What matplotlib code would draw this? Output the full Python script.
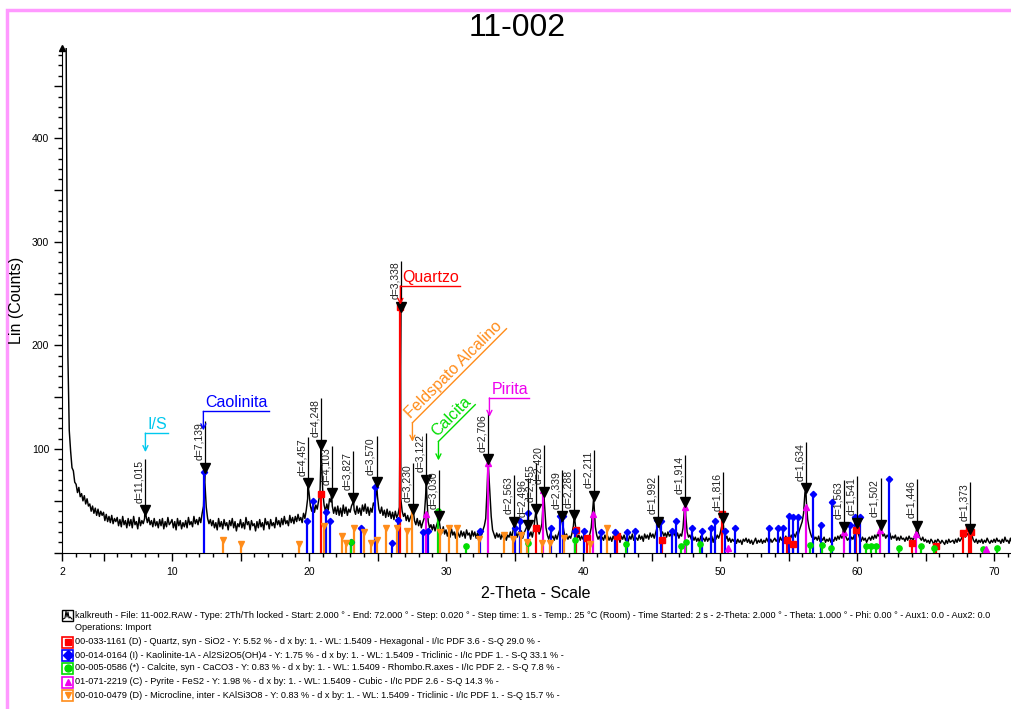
import numpy as np
import matplotlib
matplotlib.use("Agg")
import matplotlib.pyplot as plt
from matplotlib.lines import Line2D
from matplotlib.patches import Rectangle
from matplotlib.ticker import MultipleLocator

plt.rcParams["font.family"] = ["Liberation Sans", "DejaVu Sans"]

# ---------------------------------------------------------
# measured scan: counts read off the picture every 0.1 deg (2 - 72 deg)
# ---------------------------------------------------------
scan_start = 2.0
scan_step = 0.1
counts = [
    900, 850, 700, 420, 190, 118, 98, 82, 79, 68,   # 2
    66, 58, 63, 54, 57, 50, 55, 47, 52, 45,         # 3
    47, 40, 45, 38, 43, 36, 42, 35, 40, 36,         # 4
    39, 31, 37, 30, 35, 29, 36, 28, 33, 30,         # 5
    34, 26, 32, 25, 35, 27, 31, 24, 33, 26,         # 6
    32, 24, 35, 27, 30, 23, 34, 26, 31, 28,         # 7
    33, 36, 29, 34, 27, 31, 25, 33, 26, 30,         # 8
    24, 32, 26, 33, 23, 30, 25, 34, 27, 29,         # 9
    32, 24, 30, 22, 33, 26, 31, 23, 29, 25,         # 10
    31, 24, 34, 27, 30, 25, 35, 28, 32, 27,         # 11
    34, 29, 38, 45, 68, 44, 33, 28, 32, 26,         # 12
    31, 24, 29, 22, 33, 25, 30, 23, 32, 26,         # 13
    29, 22, 31, 26, 33, 24, 30, 21, 28, 25,         # 14
    32, 24, 29, 23, 34, 27, 30, 22, 31, 26,         # 15
    28, 21, 30, 24, 32, 25, 29, 22, 33, 27,         # 16
    30, 23, 32, 26, 29, 24, 34, 27, 31, 25,         # 17
    33, 27, 35, 28, 31, 26, 36, 29, 34, 28,         # 18
    35, 30, 37, 31, 34, 29, 38, 33, 41, 52,         # 19
    58, 45, 40, 48, 39, 46, 42, 50, 57, 96,         # 20
    60, 46, 40, 47, 41, 52, 49, 45, 38, 44,         # 21
    37, 45, 36, 43, 35, 46, 38, 44, 36, 42,         # 22
    39, 45, 48, 41, 37, 45, 38, 43, 36, 46,         # 23
    40, 47, 38, 44, 36, 43, 39, 48, 45, 58,         # 24
    54, 42, 38, 44, 36, 41, 34, 42, 35, 40,         # 25
    33, 39, 32, 40, 34, 37, 44, 52, 40, 35,         # 26
    38, 31, 36, 30, 34, 37, 38, 31, 27, 33,         # 27
    26, 31, 24, 29, 33, 52, 55, 30, 24, 27,         # 28
    22, 27, 21, 26, 30, 31, 22, 19, 25, 18,         # 29
    22, 16, 21, 15, 23, 17, 20, 14, 22, 18,         # 30
    15, 21, 16, 20, 14, 22, 17, 19, 13, 21,         # 31
    16, 20, 14, 19, 15, 21, 17, 22, 26, 33,         # 32
    62, 82, 58, 35, 22, 18, 14, 19, 15, 18,         # 33
    13, 18, 14, 19, 12, 17, 15, 20, 14, 22,         # 34
    26, 19, 15, 20, 16, 21, 14, 19, 22, 25,         # 35
    21, 16, 20, 15, 22, 34, 35, 24, 18, 22,         # 36
    28, 50, 44, 24, 17, 13, 18, 14, 16, 12,         # 37
    17, 13, 18, 22, 31, 30, 21, 15, 18, 13,         # 38
    16, 14, 19, 26, 32, 20, 14, 17, 12, 16,         # 39
    13, 17, 12, 16, 14, 18, 24, 41, 48, 25,         # 40
    17, 13, 16, 11, 15, 12, 17, 13, 16, 12,         # 41
    15, 11, 16, 13, 17, 12, 15, 10, 16, 13,         # 42
    17, 12, 15, 11, 16, 13, 18, 12, 15, 14,         # 43
    12, 17, 13, 16, 11, 18, 14, 17, 13, 19,         # 44
    15, 18, 14, 19, 24, 27, 25, 18, 20, 16,         # 45
    19, 15, 20, 16, 18, 14, 21, 17, 15, 19,         # 46
    14, 18, 16, 24, 42, 36, 20, 15, 17, 13,         # 47
    16, 12, 15, 11, 14, 10, 16, 12, 14, 11,         # 48
    15, 11, 14, 12, 16, 10, 15, 13, 17, 14,         # 49
    18, 24, 30, 19, 13, 16, 11, 14, 10, 13,         # 50
    11, 14, 9, 13, 10, 12, 8, 13, 11, 14,           # 51
    10, 13, 9, 12, 8, 11, 14, 9, 12, 10,            # 52
    13, 9, 12, 10, 14, 11, 9, 13, 10, 12,           # 53
    14, 11, 13, 10, 15, 12, 14, 11, 16, 13,         # 54
    15, 12, 17, 14, 18, 15, 20, 17, 22, 26,         # 55
    30, 38, 58, 50, 32, 24, 19, 15, 17, 13,         # 56
    15, 12, 16, 11, 14, 12, 15, 10, 13, 11,         # 57
    14, 10, 13, 11, 15, 12, 16, 13, 17, 14,         # 58
    22, 20, 15, 12, 14, 11, 15, 13, 17, 21,         # 59
    26, 18, 14, 11, 15, 12, 14, 10, 13, 15,         # 60
    12, 16, 13, 17, 14, 18, 16, 23, 20, 16,         # 61
    18, 14, 17, 15, 19, 13, 16, 14, 17, 12,         # 62
    15, 12, 16, 13, 14, 11, 15, 12, 16, 13,         # 63
    14, 12, 16, 19, 23, 18, 14, 12, 15, 11,         # 64
    13, 10, 12, 9, 13, 11, 8, 12, 10, 13,           # 65
    11, 9, 12, 10, 8, 12, 9, 13, 10, 11,            # 66
    12, 9, 13, 10, 14, 11, 13, 16, 18, 15,          # 67
    19, 17, 20, 22, 16, 12, 10, 13, 9, 12,          # 68
    10, 13, 9, 12, 10, 14, 11, 9, 12, 10,           # 69
    13, 10, 14, 11, 12, 9, 13, 10, 15, 11,          # 70
    12, 9, 14, 10, 13, 11, 12, 10, 13, 11,          # 71
    12,                                             # 72
]

# peaks marked by the software
peak_d = ["11,015", "7,139", "4,457", "4,248", "4,103", "3,827", "3,570",
          "3,338", "3,230", "3,122", "3,030", "2,706", "2,563", "2,496",
          "2,455", "2,420", "2,339", "2,288", "2,211", "1,992", "1,914",
          "1,816", "1,634", "1,563", "1,541", "1,502", "1,446", "1,373"]
peak_2th = [8.02, 12.39, 19.91, 20.90, 21.65, 23.23, 24.93,
            26.69, 27.60, 28.57, 29.46, 33.08, 34.99, 35.96,
            36.58, 37.13, 38.46, 39.36, 40.79, 45.51, 47.47,
            50.21, 56.27, 59.07, 60.00, 61.72, 64.39, 68.27]
peak_cts = [41, 82, 67, 104, 58, 53, 68,
            237, 42, 70, 35, 90, 30, 27,
            42, 59, 35, 36, 55, 30, 49,
            33, 62, 25, 29, 27, 26, 23]

# reference patterns (stick positions / heights)
quartz_2th = [20.86, 26.64, 36.54, 39.47, 40.29, 42.45, 45.79, 50.14,
              54.87, 55.33, 59.96, 64.03, 65.79, 67.74, 68.14, 68.32]
quartz_cts = [57, 237, 24, 22, 14, 16, 12, 37, 12, 8, 22, 9, 6, 19, 24, 20]

kaolinite_2th = [12.36, 19.86, 20.30, 21.25, 21.50, 23.10, 23.80, 24.85,
                 26.07, 26.47, 28.33, 28.72, 32.48, 35.07, 35.42, 36.00,
                 37.66, 38.30, 38.55, 39.45, 40.05, 41.32, 42.30, 43.20,
                 43.82, 45.40, 45.67, 46.50, 46.80, 47.96, 48.70, 49.37,
                 49.60, 50.40, 51.07, 53.57, 54.25, 54.60, 55.00, 55.30,
                 55.70, 56.80, 57.35, 58.15, 59.47, 59.86, 60.20, 62.34]
kaolinite_cts = [78, 31, 50, 39, 31, 10, 24, 63,
                 9, 32, 20, 21, 21, 24, 31, 38,
                 24, 35, 35, 21, 21, 20, 20, 20,
                 21, 32, 31, 21, 31, 24, 21, 24,
                 31, 21, 24, 24, 24, 24, 35, 34,
                 34, 57, 27, 49, 27, 34, 34, 71]

calcite_2th = [23.06, 29.41, 31.44, 35.97, 39.40, 43.16, 47.12, 47.51, 48.51, 56.57,
               57.41, 58.09, 60.68, 61.01, 61.40, 63.07, 64.67, 65.62, 69.20, 70.24]
calcite_cts = [10, 40, 6, 9, 12, 8, 6, 10, 8, 7, 7, 5, 6, 6, 6, 5, 6, 5, 4, 5]

pyrite_2th = [28.51, 33.04, 37.08, 40.75, 47.42, 50.55, 56.28, 59.02, 61.67, 64.28, 69.40]
pyrite_cts = [37, 87, 60, 37, 44, 5, 44, 20, 22, 18, 4]

microcline_2th = [13.70, 15.00, 19.25, 21.06, 22.40, 22.70, 23.25, 24.00, 24.50,
                  24.95, 25.60, 26.45, 27.15, 27.52, 29.55, 30.20, 30.82, 32.40,
                  34.20, 34.92, 35.45, 35.90, 37.00, 37.60, 38.60, 40.48, 41.78]
microcline_cts = [12, 8, 8, 26, 16, 9, 24, 20, 9,
                  12, 24, 24, 21, 42, 20, 24, 24, 13,
                  17, 13, 17, 10, 9, 9, 14, 8, 24]

# phase names written on the chart
phase_names = ["I/S", "Caolinita", "Quartzo", "Feldspato Alcalino", "Calcita", "Pirita"]
phase_2th = [8.06, 12.29, 26.67, 27.55, 29.45, 33.17]
phase_tip = [97, 118, 239, 107, 89, 131]
phase_colors = ["#00C8EE", "#0000FF", "#FF0000", "#FF8C1A", "#00DD00", "#EE00EE"]
phase_angle = [0, 0, 0, 45, 45, 0]

legend_rows = [
    "kalkreuth - File: 11-002.RAW - Type: 2Th/Th locked - Start: 2.000 ° - End: 72.000 ° - Step: 0.020 ° - Step time: 1. s - Temp.: 25 °C (Room) - Time Started: 2 s - 2-Theta: 2.000 ° - Theta: 1.000 ° - Phi: 0.00 ° - Aux1: 0.0 - Aux2: 0.0",
    "Operations: Import",
    "00-033-1161 (D) - Quartz, syn - SiO2 - Y: 5.52 % - d x by: 1. - WL: 1.5409 - Hexagonal - I/Ic PDF 3.6 - S-Q 29.0 % -",
    "00-014-0164 (I) - Kaolinite-1A - Al2Si2O5(OH)4 - Y: 1.75 % - d x by: 1. - WL: 1.5409 - Triclinic - I/Ic PDF 1. - S-Q 33.1 % -",
    "00-005-0586 (*) - Calcite, syn - CaCO3 - Y: 0.83 % - d x by: 1. - WL: 1.5409 - Rhombo.R.axes - I/Ic PDF 2. - S-Q 7.8 % -",
    "01-071-2219 (C) - Pyrite - FeS2 - Y: 1.98 % - d x by: 1. - WL: 1.5409 - Cubic - I/Ic PDF 2.6 - S-Q 14.3 % -",
    "00-010-0479 (D) - Microcline, inter - KAlSi3O8 - Y: 0.83 % - d x by: 1. - WL: 1.5409 - Triclinic - I/Ic PDF 1. - S-Q 15.7 % -",
]

# ---------------------------------------------------------
# figure
# ---------------------------------------------------------
W, H = 1011, 709
def fx(px):
    return px / W
def fy(py):
    return 1 - py / H

fig = plt.figure(figsize=(W / 100, H / 100), dpi=100)
x0_px, y0_px, ytop_px = 62.4, 552.7, 48
ax = fig.add_axes([fx(x0_px), fy(y0_px), (W - x0_px) / W, (y0_px - ytop_px) / H])
ax.set_xlim(2, 2 + (W - x0_px) / 13.7)
ax.set_ylim(0, (y0_px - ytop_px) / 1.0367)

# pink page frame
fig.add_artist(Rectangle((fx(7), -0.5), 2, fy(10) + 0.5, fill=False,
                         ec="#FF99FF", lw=2.5, transform=fig.transFigure))

# the scan
x_scan = scan_start + scan_step * np.arange(len(counts))
x_all = np.concatenate([x_scan, peak_2th])
y_all = np.concatenate([counts, peak_cts])
order = np.argsort(x_all, kind="stable")
ax.plot(x_all[order], y_all[order], color="k", lw=1.05, zorder=2)

# reference sticks
phases = [
    (quartz_2th, quartz_cts, "#FF0000", "s", 4.5),
    (kaolinite_2th, kaolinite_cts, "#0000FF", "D", 3.2),
    (calcite_2th, calcite_cts, "#00DD00", "o", 3.8),
    (pyrite_2th, pyrite_cts, "#EE00EE", "^", 4),
    (microcline_2th, microcline_cts, "#FF8C1A", "v", 4.5),
]
for xs, ys, c, m, ms in phases:
    ax.vlines(xs, 0, ys, color=c, lw=1.6, zorder=3)
    ax.plot(xs, ys, ls="none", marker=m, color=c, ms=ms, mec=c, zorder=3.5)

# peak markers
ax.plot(peak_2th, peak_cts, ls="none", marker="v", color="k", ms=6.5, zorder=5)

# axes styling
for s in ["top", "right"]:
    ax.spines[s].set_visible(False)
ax.set_xticks([2] + list(range(5, 71, 5)))
ax.set_xticklabels(["2"] + [str(v) if v % 10 == 0 else "" for v in range(5, 71, 5)])
ax.xaxis.set_minor_locator(MultipleLocator(1))
ax.set_yticks(range(0, 451, 50))
ax.set_yticklabels(["" if (v % 100 or v == 0) else str(v) for v in range(0, 451, 50)])
ax.yaxis.set_minor_locator(MultipleLocator(10))
ax.tick_params(axis="both", which="major", length=6, width=1, labelsize=7.5, direction="out")
ax.tick_params(axis="both", which="minor", length=3, width=1, direction="out")
ax.tick_params(axis="x", pad=4)
ax.plot(0, 1, marker="^", color="k", ms=5, transform=ax.transAxes, clip_on=False)

fig.text(fx(517), fy(28), "11-002", fontsize=23, ha="center", va="center")
fig.text(fx(17), fy(300), "Lin (Counts)", fontsize=11.5, rotation=90, ha="center", va="center")
fig.text(fx(536), fy(594), "2-Theta - Scale", fontsize=11.5, ha="center", va="center")

# d-spacing labels
fig.canvas.draw()
r = fig.canvas.get_renderer()
inv = ax.transData.inverted()
dtexts = []
for x, y, lab in zip(peak_2th, peak_cts, peak_d):
    t = ax.annotate("d=" + lab, (x, y), xytext=(-0.7, 5.5), textcoords="offset points",
                    rotation=90, ha="right", va="bottom", fontsize=7.5, color="#222222",
                    zorder=6)
    dtexts.append(t)
fig.canvas.draw()
for t, x, y in zip(dtexts, peak_2th, peak_cts):
    bb = t.get_window_extent(r)
    ytop = inv.transform((0, bb.y1 + 1))[1]
    ax.vlines(x, y, ytop, color="k", lw=0.9, zorder=4)

# phase names with arrows and underlines
arrow_px = 19
for name, x, tip, c, ang in zip(phase_names, phase_2th, phase_tip, phase_colors, phase_angle):
    ax.annotate("", xy=(x, tip), xytext=(0, arrow_px * 0.72), textcoords="offset points",
                arrowprops=dict(arrowstyle="->", color=c, lw=1, shrinkA=0, shrinkB=0,
                                mutation_scale=9), zorder=6)
    p = ax.transData.transform((x, tip)) + np.array([0, arrow_px])
    tx, ty = inv.transform(p + np.array([2, 1]) if ang == 0 else p + np.array([1, 2]))
    t = ax.text(tx, ty, name, color=c, fontsize=11.5, ha="left", va="bottom",
                rotation_mode="anchor", clip_on=False, zorder=6)
    w = t.get_window_extent(r).width
    t.set_rotation(ang)
    a = np.deg2rad(ang)
    end = p + np.array([np.cos(a), np.sin(a)]) * (w + 3)
    (ux0, uy0), (ux1, uy1) = inv.transform(p), inv.transform(end)
    ax.plot([ux0, ux1], [uy0, uy1], color=c, lw=1, clip_on=False, zorder=6)

# legend block
legend_y = [615, 628, 642, 655, 668, 682, 695]
icons = [None, None, ("#FF0000", "s"), ("#0000FF", "D"), ("#00DD00", "o"),
         ("#EE00EE", "^"), ("#FF8C1A", "v")]
for txt, yy, ic in zip(legend_rows, legend_y, icons):
    fig.text(fx(75), fy(yy), txt, fontsize=6.55, ha="left", va="center")
    if ic is not None:
        c, m = ic
        fig.add_artist(Rectangle((fx(62), fy(yy + 5.5)), 11 / W, 11 / H, fc="white",
                                 ec=c, lw=1.2, transform=fig.transFigure))
        fig.add_artist(Line2D([fx(67.5)], [fy(yy)], marker=m, color=c, ms=5,
                              transform=fig.transFigure))
# scan icon on the first row
fig.add_artist(Rectangle((fx(62), fy(legend_y[0] + 5.5)), 11 / W, 11 / H, fc="white",
                         ec="k", lw=1.0, transform=fig.transFigure))
gx = 62 + np.array([1, 3, 4, 5, 6, 7, 8, 10])
gy = legend_y[0] + np.array([4, 3, -4, 2, -3, 3, 2, 4])
fig.add_artist(Line2D(fx(gx), fy(gy), color="k", lw=0.8, transform=fig.transFigure))

fig.savefig("out.png", dpi=100, facecolor="white")
